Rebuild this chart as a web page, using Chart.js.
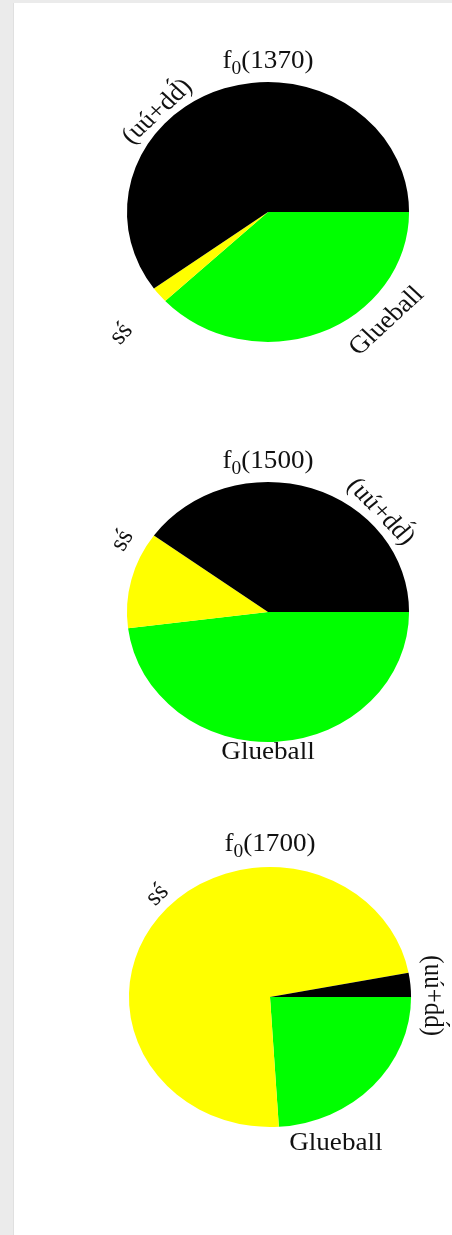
<!DOCTYPE html>
<html>
<head>
<meta charset="utf-8">
<script src="https://cdn.jsdelivr.net/npm/chart.js@4/dist/chart.umd.min.js"></script>
<style>
  html, body { margin: 0; padding: 0; }
  body { background: #ebebeb; width: 452px; height: 1235px; position: relative; overflow: hidden; }
  .sheet { position: absolute; left: 13px; top: 3px; right: 0; bottom: 0; background: #fff; border-left: 1px solid #e0e0e0; }
  canvas { position: absolute; left: 13px; }
</style>
</head>
<body>
<div class="sheet"></div>
<canvas id="pie1370" width="439" height="400" style="top:0px"></canvas>
<canvas id="pie1500" width="439" height="400" style="top:400px"></canvas>
<canvas id="pie1700" width="439" height="435" style="top:800px"></canvas>
<script>
// quark content of the three scalar states, in percent
// slice order runs clockwise from 3 o'clock
const components = ['Glueball', 'ss\u0301', '(uu\u0301+dd\u0301)'];
const states = ['1370', '1500', '1700'];
const f1370 = [38, 2, 60];
const f1500 = [48, 12, 40];
const f1700 = [24, 73, 3];
const sliceColors = ['#00ff00', '#ffff00', '#000000'];

const FONT = "'Liberation Serif', 'Times New Roman', serif";
const STRETCH = 1.085; // everything is drawn slightly wider than tall

// label placement per pie: polar angle (deg, ccw from east), distance as a
// multiple of the radius, text rotation (deg)
const layouts = {
    '1370': { pad: { left: 125, right: 54, top: 82, bottom: 58 },
              labels: [ { a: 315, k: 1.19, rot: -45 }, { a: 222, k: 1.40, rot: -50 }, { a: 135.5, k: 1.10, rot: -45 } ],
              titleGap: 14 },
    '1500': { pad: { left: 125, right: 54, top: 82, bottom: 58 },
              labels: [ { a: 270, k: 1.08, rot: 0 }, { a: 152, k: 1.17, rot: -60 }, { a: 44, k: 1.11, rot: 48 } ],
              titleGap: 14 },
    '1700': { pad: { left: 127, right: 52, top: 67, bottom: 108 },
              labels: [ { a: 292.5, k: 1.22, rot: 0 }, { a: 135.5, k: 1.12, rot: -45 }, { a: 0.5, k: 1.15, rot: 90 } ],
              titleGap: 16 }
};

// widen the arcs horizontally around the pie centre
const stretchPlugin = {
    id: 'stretch',
    beforeDatasetsDraw(chart) {
        const arc = chart.getDatasetMeta(0).data[0];
        const ctx = chart.ctx;
        ctx.save();
        ctx.translate(arc.x, arc.y);
        ctx.scale(STRETCH, 1);
        ctx.translate(-arc.x, -arc.y);
    },
    afterDatasetsDraw(chart) {
        chart.ctx.restore();
    }
};

// state name with subscript above the pie, component names round the rim
const labelPlugin = {
    id: 'rimLabels',
    afterDraw(chart) {
        const ctx = chart.ctx;
        const arc = chart.getDatasetMeta(0).data[0];
        const cx = arc.x, cy = arc.y, r = arc.outerRadius;
        const state = chart.options.plugins.rimLabels.state;
        const lay = layouts[state];

        ctx.save();
        ctx.fillStyle = '#111';

        // title: f, subscript 0, (mass) -- measured unstretched, drawn stretched
        const big = '25px ' + FONT, small = '18px ' + FONT;
        ctx.font = big;
        const wf = ctx.measureText('f').width;
        const wm = ctx.measureText('(' + state + ')').width;
        ctx.font = small;
        const w0 = ctx.measureText('0').width;
        const base = cy - r - lay.titleGap;
        ctx.save();
        ctx.translate(cx, base);
        ctx.scale(STRETCH, 1);
        let x = -(wf + w0 + wm) / 2;
        ctx.textBaseline = 'alphabetic';
        ctx.textAlign = 'left';
        ctx.font = big;
        ctx.fillText('f', x, 0);
        x += wf;
        ctx.font = small;
        ctx.fillText('0', x, 6);
        x += w0;
        ctx.font = big;
        ctx.fillText('(' + state + ')', x, 0);
        ctx.restore();

        // component names
        ctx.font = '25px ' + FONT;
        ctx.textAlign = 'center';
        ctx.textBaseline = 'middle';
        chart.data.labels.forEach((text, i) => {
            const p = lay.labels[i];
            const t = p.a * Math.PI / 180;
            const lx = cx + Math.cos(t) * r * p.k * STRETCH;
            const ly = cy - Math.sin(t) * r * p.k;
            ctx.save();
            ctx.translate(lx, ly);
            ctx.scale(STRETCH, 1);
            ctx.rotate(p.rot * Math.PI / 180);
            ctx.fillText(text, 0, 0);
            ctx.restore();
        });
        ctx.restore();
    }
};

function makePie(state, values) {
    const lay = layouts[state];
    return new Chart(document.getElementById('pie' + state), {
        type: 'pie',
        data: {
            labels: components,
            datasets: [{
                data: values,
                backgroundColor: sliceColors,
                borderWidth: 0,
                hoverOffset: 0,
                offset: 0
            }]
        },
        options: {
            responsive: false,
            devicePixelRatio: 1,
            animation: false,
            rotation: 90,
            layout: { padding: lay.pad },
            events: [],
            plugins: {
                legend: { display: false },
                tooltip: { enabled: false },
                rimLabels: { state: state }
            }
        },
        plugins: [stretchPlugin, labelPlugin]
    });
}

makePie('1370', f1370);
makePie('1500', f1500);
makePie('1700', f1700);
</script>
</body>
</html>
